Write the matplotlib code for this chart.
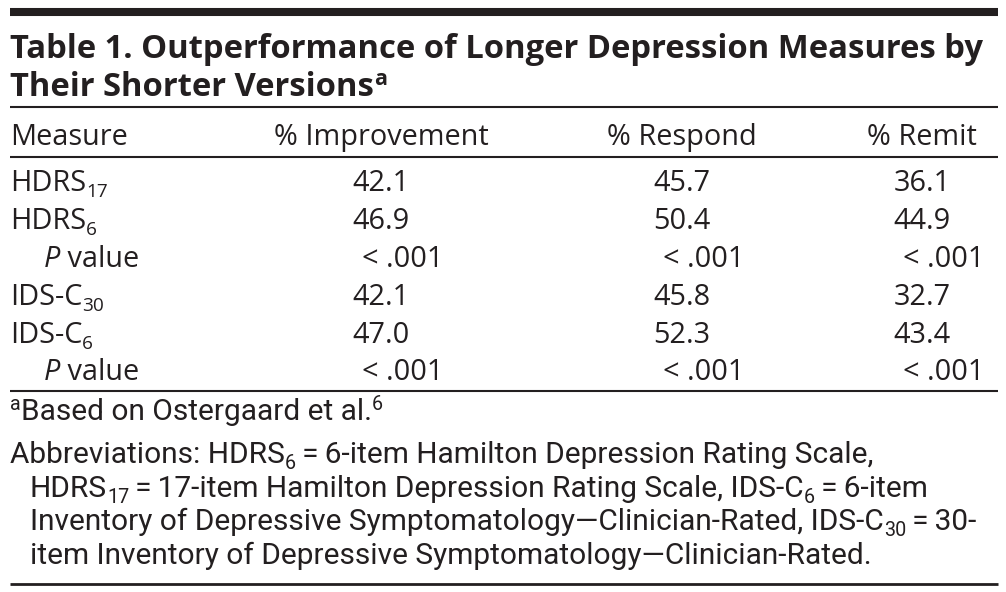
import matplotlib.pyplot as plt
from matplotlib import font_manager

names = {f.name for f in font_manager.fontManager.ttflist}
BODY = 'Open Sans' if 'Open Sans' in names else 'DejaVu Sans'
NOTE = 'Roboto' if 'Roboto' in names else BODY
INK = '#231f20'
TS = '\u2009'  # thin space round the equals signs

# table content
title_lines = [
    [('Table 1. Outperformance of Longer Depression Measures by', 'n')],
    [('Their Shorter Versions', 'n'), ('a', 'sup')],
]
columns = ['Measure', '% Improvement', '% Respond', '% Remit']
measures = [
    [('HDRS', 'n'), ('17', 'sub')],
    [('HDRS', 'n'), ('6', 'sub')],
    [('P', 'it'), (' value', 'n')],
    [('IDS-C', 'n'), ('30', 'sub')],
    [('IDS-C', 'n'), ('6', 'sub')],
    [('P', 'it'), (' value', 'n')],
]
is_pvalue = [False, False, True, False, False, True]
improvement = ['42.1', '46.9', '< .001', '42.1', '47.0', '< .001']
respond = ['45.7', '50.4', '< .001', '45.8', '52.3', '< .001']
remit = ['36.1', '44.9', '< .001', '32.7', '43.4', '< .001']
footnotes = [
    [('a', 'sup'), ('Based on Ostergaard et al.', 'n'), ('6', 'sup')],
    [('Abbreviations: HDRS', 'n'), ('6', 'sub'),
     (TS + '=' + TS + '6-item Hamilton Depression Rating Scale,', 'n')],
    [('HDRS', 'n'), ('17', 'sub'),
     (TS + '=' + TS + '17-item Hamilton Depression Rating Scale, IDS-C', 'n'),
     ('6', 'sub'), (TS + '=' + TS + '6-item', 'n')],
    [('Inventory of Depressive Symptomatology\u2014Clinician-Rated, IDS-C', 'n'),
     ('30', 'sub'), (TS + '=' + TS + '30-', 'n')],
    [('item Inventory of Depressive Symptomatology\u2014Clinician-Rated.', 'n')],
]

fig = plt.figure(figsize=(10.06, 5.92), dpi=100)
ax = fig.add_axes([0, 0, 1, 1])
ax.set_xlim(0, 1006)
ax.set_ylim(592, 0)
ax.axis('off')
renderer = fig.canvas.get_renderer()


def width(s, **kw):
    t = ax.text(0, 0, '|' + s + '|', **kw)
    w1 = t.get_window_extent(renderer).width
    t.remove()
    t = ax.text(0, 0, '||', **kw)
    w2 = t.get_window_extent(renderer).width
    t.remove()
    return w1 - w2


def segments(parts, size, family, weight):
    segs = []
    for txt, kind in parts:
        s = size * 0.66 if kind in ('sub', 'sup') else size
        kw = dict(fontsize=s, family=family, weight=weight, color=INK,
                  style='italic' if kind == 'it' else 'normal')
        segs.append((txt, kind, kw, width(txt, **kw)))
    return segs


def rich(x, y, parts, size, family=BODY, weight='normal', ha='left'):
    segs = segments(parts, size, family, weight)
    total = sum(s[3] for s in segs)
    if ha == 'center':
        x -= total / 2
    px = size / 72 * 100
    for txt, kind, kw, w in segs:
        dy = 0.2 * px if kind == 'sub' else (-0.34 * px if kind == 'sup' else 0)
        ax.text(x, y + dy, txt, va='baseline', ha='left', **kw)
        x += w


def fit(parts, family, weight, target):
    w = sum(s[3] for s in segments(parts, 20, family, weight))
    return 20 * target / w


title_size = fit(title_lines[0], BODY, 'bold', 973)
body_size = fit([('% Improvement', 'n')], BODY, 'normal', 214)
note_size = fit(footnotes[3], NOTE, 'normal', 945)

# rules
ax.hlines(12, 10, 998, lw=5.8, color=INK)
ax.hlines([107, 157, 391], 10, 998, lw=1.5, color=INK)
ax.hlines(584, 10, 998, lw=2.0, color=INK)

# title
for parts, y in zip(title_lines, [58, 96]):
    rich(10, y, parts, title_size, weight='bold')

# header
col_x = [381, 682, 922]
rich(10, 145, [(columns[0], 'n')], body_size)
for name, cx in zip(columns[1:], col_x):
    rich(cx, 145, [(name, 'n')], body_size, ha='center')

# body rows
row_y = [191, 229, 267, 305, 343, 380]
for i, y in enumerate(row_y):
    rich(44 if is_pvalue[i] else 10, y, measures[i], body_size)
    for vals, cx in zip([improvement, respond, remit], col_x):
        shift = 22 if is_pvalue[i] else 0
        rich(cx + shift, y, [(vals[i], 'n')], body_size, ha='center')

# footnotes
note_x = [10, 10, 30, 30, 30]
note_y = [420, 463, 497, 530, 564]
for parts, x, y in zip(footnotes, note_x, note_y):
    rich(x, y, parts, note_size, family=NOTE)

fig.savefig('out.png', dpi=100, facecolor='white')
